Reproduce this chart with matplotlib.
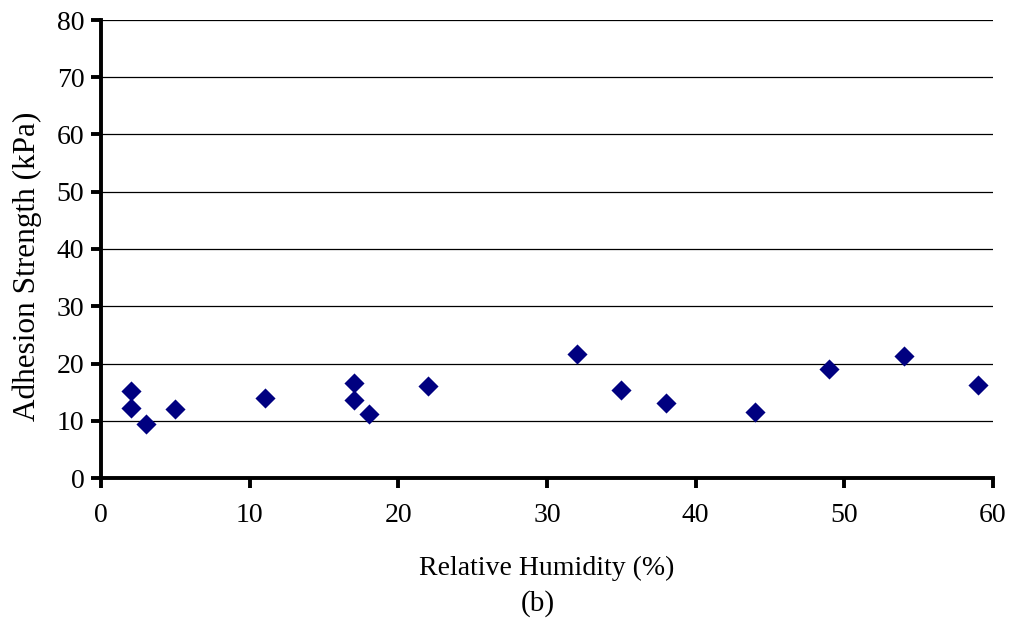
import matplotlib.pyplot as plt

# Adhesion strength vs relative humidity, panel (b)
humidity = [2, 2, 3, 5, 11, 17, 17, 18, 22, 32, 35, 38, 44, 49, 54, 59]
strength = [15.2, 12.2, 9.4, 12.0, 14.0, 16.6, 13.6, 11.2, 16.1, 21.7, 15.4, 13.1, 11.5, 19.0, 21.3, 16.2]

x_ticks = [0, 10, 20, 30, 40, 50, 60]
y_ticks = [0, 10, 20, 30, 40, 50, 60, 70, 80]

plt.rcParams["font.family"] = ["Liberation Serif", "DejaVu Serif"]

fig = plt.figure(figsize=(10.11, 6.28), dpi=100)
ax = fig.add_axes([101 / 1011, 150 / 628, 892 / 1011, 458 / 628])

ax.scatter(humidity, strength, marker="D", s=105, color="#000080", zorder=3, linewidths=0)

ax.set_xlim(0, 60)
ax.set_ylim(0, 80)
ax.set_xticks(x_ticks)
ax.set_yticks(y_ticks)

for y in y_ticks[1:]:
    ax.axhline(y, color="black", linewidth=0.9, zorder=1)

for side in ["top", "right"]:
    ax.spines[side].set_visible(False)
for side in ["left", "bottom"]:
    ax.spines[side].set_linewidth(2.8)
    ax.spines[side].set_zorder(4)

ax.tick_params(axis="both", direction="out", length=7, width=2.8, labelsize=20, pad=5)
ax.tick_params(axis="x", pad=11)

ax.set_xlabel("Relative Humidity (%)", fontsize=20, labelpad=20)
ax.set_ylabel("Adhesion Strength (kPa)", fontsize=22.5, va="center")
ax.yaxis.set_label_coords((27 - 101) / 892, (478 - 266) / 458)
fig.text(538 / 1011, 1 - 604 / 628, "(b)", fontsize=21, ha="center", va="center")

fig.savefig("out.png", dpi=100)
